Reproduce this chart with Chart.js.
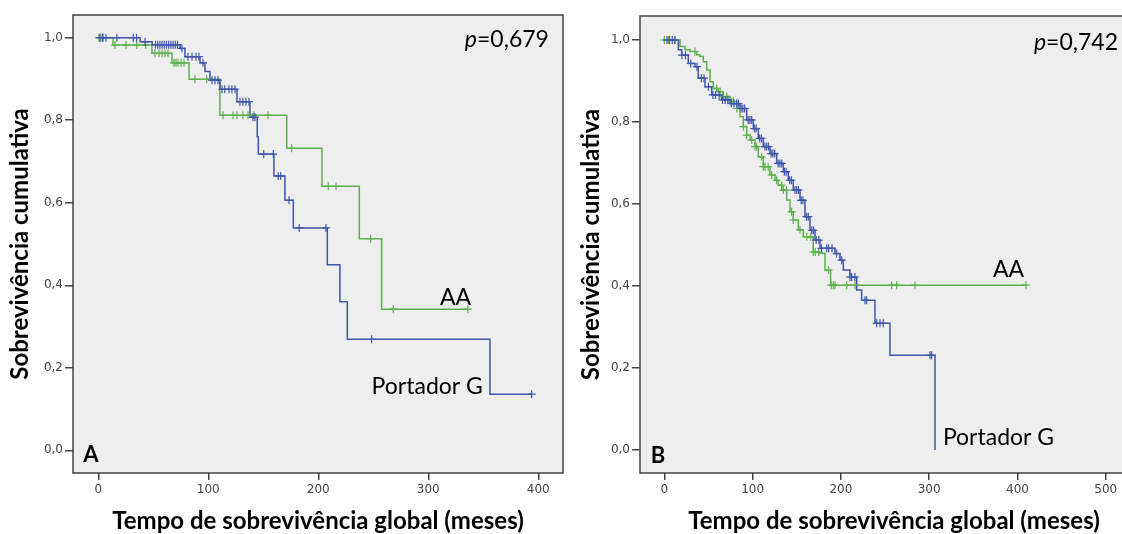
<!DOCTYPE html>
<html>
<head>
<meta charset="utf-8">
<script src="https://cdn.jsdelivr.net/npm/chart.js@4.4.1/dist/chart.umd.min.js"></script>
<style>
  html, body { margin: 0; padding: 0; background: #fff; overflow: hidden; width: 1122px; height: 534px; }
  #chartA { position: absolute; left: 0; top: 0; }
  #chartB { position: absolute; left: 570px; top: 0; }
</style>
</head>
<body>
<canvas id="chartA" width="570" height="534"></canvas>
<canvas id="chartB" width="590" height="534"></canvas>
<script>
// tick labels (shared)
const yTicks = [0, 0.2, 0.4, 0.6, 0.8, 1.0];
const yTickLabels = ['0,0', '0,2', '0,4', '0,6', '0,8', '1,0'];
const xTicksA = [0, 100, 200, 300, 400];
const xTicksB = [0, 100, 200, 300, 400, 500];

// Panel A - AA (green): event times and survival after each event
const aaTimesA = [0, 13.4, 48.8, 67, 82.5, 110.6, 171.3, 203.4, 237.3, 257.6, 336];
const aaSurvA = [1, 0.982, 0.962, 0.939, 0.899, 0.812, 0.732, 0.640, 0.513, 0.342, 0.342];
const aaCensorA = [0.6, 2.5, 4.3, 15.2, 25.2, 34.9, 43.1, 51.5, 55.2, 57.9, 60.6, 63.4, 68.8, 70.6,
  72.5, 75.2, 77.9, 87.9, 98.5, 113.4, 122.5, 126.1, 131.5, 136.1, 141.5, 154.3, 175.8, 209.1, 216.1,
  247.6, 268.2, 336];

// Panel A - Portador G (blue)
const gTimesA = [0, 38, 49, 74.3, 78.8, 92.5, 97, 101.5, 110.6, 126.1, 137.9, 144.5, 145.5, 159.7,
  169.7, 177.3, 208.2, 219.7, 226.4, 356.1, 394];
const gSurvA = [1, 0.99, 0.983, 0.974, 0.954, 0.939, 0.918, 0.897, 0.875, 0.845, 0.807, 0.760, 0.718,
  0.665, 0.606, 0.539, 0.450, 0.360, 0.269, 0.136, 0.136];
const gCensorA = [1.5, 4, 7, 16.9, 31.8, 34.8, 42.5, 52, 54, 56, 58, 60, 62, 64, 66, 68, 70, 72, 76,
  81.5, 85.2, 88.8, 91.5, 95.2, 103.4, 106.1, 108.8, 112.5, 115, 118.8, 121.5, 124.3, 128.8, 131.5,
  134.3, 137, 140.6, 142.4, 150.4, 159.1, 163.6, 165.8, 173.4, 182.7, 207, 248.5, 394];

// Panel B - AA (green)
const aaTimesB = [0, 14, 17.8, 23.4, 29.1, 36.7, 40.4, 44.2, 48, 51.8, 55.5, 61.2, 66.8, 74.4, 82,
  85.7, 89.5, 93.3, 97.1, 102.7, 106.5, 112.1, 119.7, 125.4, 129.1, 133, 138.6, 142.4, 146.1, 151.8,
  157.4, 168.7, 176.3, 182, 188.4, 410.4];
const aaSurvB = [1, 1, 0.984, 0.976, 0.972, 0.964, 0.960, 0.947, 0.927, 0.898, 0.882, 0.874, 0.862,
  0.850, 0.833, 0.813, 0.789, 0.768, 0.756, 0.740, 0.715, 0.691, 0.671, 0.658, 0.646, 0.634, 0.610,
  0.581, 0.561, 0.537, 0.520, 0.483, 0.480, 0.439, 0.402, 0.402];
const aaCensorB = [0, 4.6, 12.1, 34.8, 59.3, 63.2, 66.9, 70.8, 76.4, 78.3, 82.1, 89.6, 93.3, 99,
  102.7, 104.6, 110.3, 112.1, 114, 117.7, 121.6, 127.2, 132.9, 134.8, 138.5, 144.2, 146.1, 153.7,
  161.3, 166, 168.7, 171, 175, 186, 189, 191.4, 193.3, 206.6, 216, 257.5, 263.2, 283.9, 409.6];

// Panel B - Portador G (blue)
const gTimesB = [0, 15.9, 19.7, 27.2, 34.8, 38.5, 46.1, 53.7, 65, 74.4, 85.7, 93.3, 100.8, 106.5,
  112.1, 119.7, 127.3, 134.8, 140.4, 146.1, 153.7, 159.3, 165, 170.7, 176.3, 193.3, 199, 202.7, 210.3,
  217.9, 223.5, 238.6, 255.6, 306.6];
const gSurvB = [1, 0.976, 0.963, 0.943, 0.935, 0.907, 0.886, 0.866, 0.854, 0.845, 0.833, 0.805, 0.784,
  0.760, 0.740, 0.723, 0.699, 0.679, 0.658, 0.634, 0.609, 0.569, 0.536, 0.512, 0.492, 0.479, 0.463,
  0.439, 0.422, 0.390, 0.365, 0.309, 0.231, 0];
const gCensorB = [3, 6, 9, 12, 20, 24, 30, 37, 42, 45, 50, 55, 58, 62, 66, 69, 72, 76, 79, 82, 84, 87,
  89, 91, 95, 97, 99, 102, 104, 108, 110, 114, 116, 118, 121, 123, 125, 129, 131, 133, 136, 138, 142,
  144, 148, 150, 152, 155, 157, 161, 163, 167, 169, 172, 175, 178, 183.9, 186, 190, 195.2, 200.9,
  210.3, 212.2, 215.9, 227.3, 229.2, 240.5, 244.3, 248, 300.9, 302.8];

const BLUE = '#3f56ab';
const GREEN = '#5cb04e';
const FONT = 'Lato, "Open Sans", sans-serif';

// survival value of the step curve at time t
function survAt(times, surv, t) {
  let s = surv[0];
  for (let i = 0; i < times.length; i++) {
    if (times[i] <= t) s = surv[i];
  }
  return s;
}

function curve(times, surv) {
  return times.map((t, i) => ({ x: t, y: surv[i] }));
}

function marks(censor, times, surv) {
  return censor.map(t => ({ x: t, y: survAt(times, surv, t) }));
}

const framePlugin = {
  id: 'frame',
  beforeDatasetsDraw(chart) {
    const { ctx, chartArea: a } = chart;
    ctx.save();
    ctx.fillStyle = '#eeeeee';
    ctx.fillRect(a.left, a.top, a.right - a.left, a.bottom - a.top);
    ctx.restore();
  },
  afterDraw(chart, args, opts) {
    const { ctx, chartArea: a } = chart;
    const xs = chart.scales.x, ys = chart.scales.y;
    ctx.save();
    ctx.strokeStyle = '#444';
    ctx.lineWidth = 1.5;
    ctx.strokeRect(a.left, a.top, a.right - a.left, a.bottom - a.top);
    ctx.fillStyle = '#000';
    ctx.textBaseline = 'alphabetic';
    (opts.labels || []).forEach(l => {
      const px = xs.getPixelForValue(l.x);
      const py = ys.getPixelForValue(l.y);
      if (l.italic) {
        const f1 = 'italic ' + l.size + 'px ' + FONT;
        const f2 = l.size + 'px ' + FONT;
        ctx.font = f1;
        const w1 = ctx.measureText(l.italic).width;
        ctx.font = f2;
        const w2 = ctx.measureText(l.text).width;
        let x0 = px - w1 - w2;
        ctx.textAlign = 'left';
        ctx.font = f1;
        ctx.fillText(l.italic, x0, py);
        ctx.font = f2;
        ctx.fillText(l.text, x0 + w1, py);
      } else {
        ctx.font = (l.bold ? 'bold ' : '') + l.size + 'px ' + FONT;
        ctx.textAlign = 'left';
        ctx.fillText(l.text, px, py);
      }
    });
    ctx.restore();
  }
};

function makePanel(id, p) {
  const tickFont = { family: '"DejaVu Sans", sans-serif', size: 12 };
  const titleFont = { family: FONT, size: 24, weight: 'bold', lineHeight: 1 };
  return new Chart(document.getElementById(id), {
    type: 'line',
    data: {
      datasets: [
        { data: marks(p.gCensor, p.gTimes, p.gSurv), showLine: false, pointStyle: 'cross',
          pointRadius: 4, pointBorderWidth: 1.2, borderColor: BLUE, backgroundColor: BLUE, order: 1 },
        { data: marks(p.aaCensor, p.aaTimes, p.aaSurv), showLine: false, pointStyle: 'cross',
          pointRadius: 4, pointBorderWidth: 1.2, borderColor: GREEN, backgroundColor: GREEN, order: 2 },
        { data: curve(p.gTimes, p.gSurv), stepped: 'before', borderColor: BLUE, borderWidth: 1.5,
          pointRadius: 0, fill: false, order: 3 },
        { data: curve(p.aaTimes, p.aaSurv), stepped: 'before', borderColor: GREEN, borderWidth: 1.5,
          pointRadius: 0, fill: false, order: 4 }
      ]
    },
    options: {
      responsive: false,
      animation: false,
      events: [],
      layout: { padding: p.padding },
      plugins: {
        legend: { display: false },
        tooltip: { enabled: false },
        frame: { labels: p.labels }
      },
      scales: {
        x: {
          type: 'linear', min: p.xMin, max: p.xMax,
          afterBuildTicks: s => { s.ticks = p.xTicks.map(v => ({ value: v })); },
          afterFit: s => { s.height = 60; },
          grid: { drawOnChartArea: false, drawTicks: true, tickLength: 7, color: '#444', lineWidth: 1.5 },
          border: { display: false },
          ticks: { font: tickFont, color: '#444', padding: 3, maxRotation: 0, autoSkip: false,
            callback: v => String(v) },
          title: { display: true, text: 'Tempo de sobrevivência global (meses)', font: titleFont,
            color: '#000', padding: 0 }
        },
        y: {
          type: 'linear', min: p.yMin, max: p.yMax,
          afterBuildTicks: s => { s.ticks = yTicks.map(v => ({ value: v })); },
          afterFit: s => { s.width = p.yWidth; },
          grid: { drawOnChartArea: false, drawTicks: true, tickLength: 8, color: '#444', lineWidth: 1.5 },
          border: { display: false },
          ticks: { font: tickFont, color: '#444', padding: 2, autoSkip: false,
            callback: v => yTickLabels[yTicks.indexOf(v)] },
          title: { display: true, text: 'Sobrevivência cumulativa', font: titleFont,
            color: '#000', padding: 0 }
        }
      }
    },
    plugins: [framePlugin]
  });
}

makePanel('chartA', {
  gTimes: gTimesA, gSurv: gSurvA, gCensor: gCensorA,
  aaTimes: aaTimesA, aaSurv: aaSurvA, aaCensor: aaCensorA,
  xTicks: xTicksA, xMin: -23, xMax: 422.5, yMin: -0.055, yMax: 1.055,
  padding: { left: 8, top: 15, right: 7, bottom: 1 }, yWidth: 65,
  labels: [
    { text: '=0,679', italic: 'p', x: 409.7, y: 0.977, size: 23 },
    { text: 'AA', x: 310.6, y: 0.352, size: 23 },
    { text: 'Portador G', x: 248.5, y: 0.136, size: 23 },
    { text: 'A', x: -13.6, y: -0.028, size: 22, bold: true }
  ]
});

makePanel('chartB', {
  gTimes: gTimesB, gSurv: gSurvB, gCensor: gCensorB,
  aaTimes: aaTimesB, aaSurv: aaSurvB, aaCensor: aaCensorB,
  xTicks: xTicksB, xMin: -27.5, xMax: 547.8, yMin: -0.0561, yMax: 1.0586,
  padding: { left: 9, top: 16, right: 12, bottom: 1 }, yWidth: 61,
  labels: [
    { text: '=0,742', italic: 'p', x: 513.8, y: 0.976, size: 23 },
    { text: 'AA', x: 372.2, y: 0.422, size: 23 },
    { text: 'Portador G', x: 315.5, y: 0.0115, size: 23 },
    { text: 'B', x: -15.4, y: -0.032, size: 22, bold: true }
  ]
});
</script>
</body>
</html>
